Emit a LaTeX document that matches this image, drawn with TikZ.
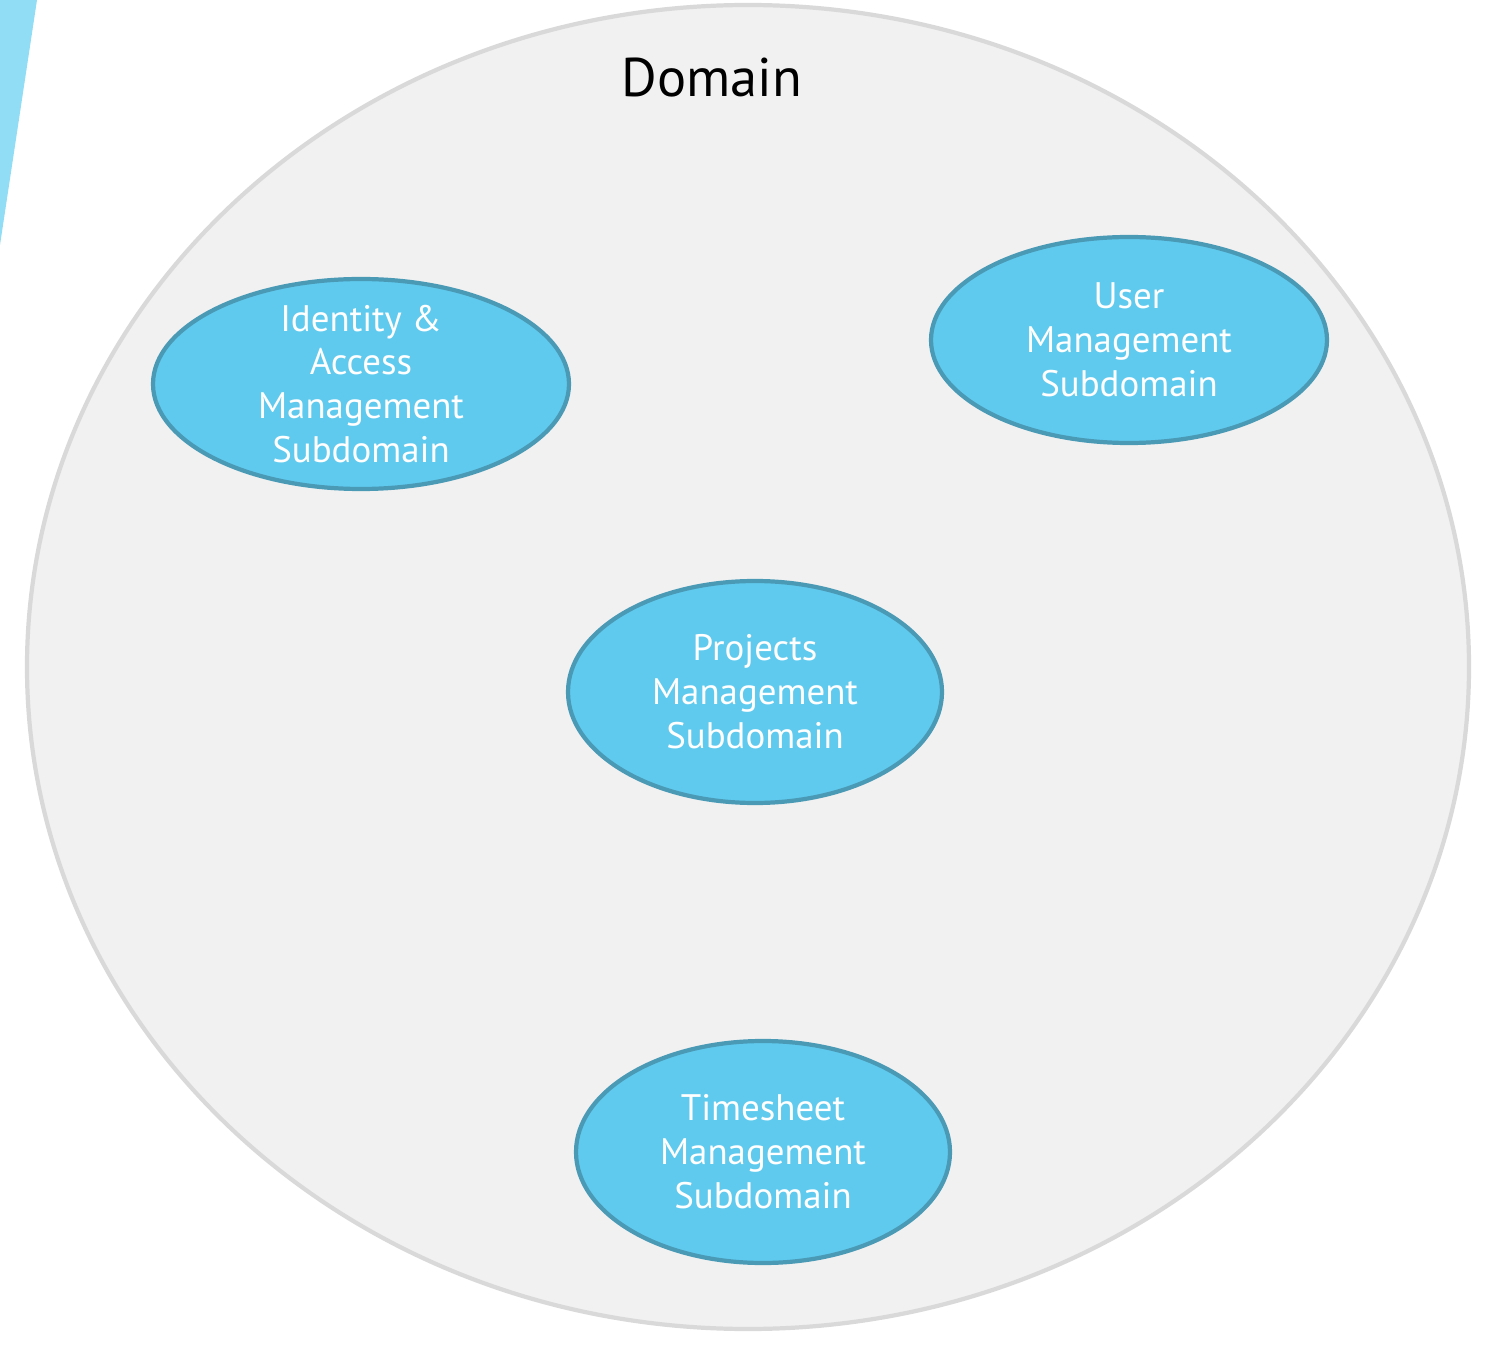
\documentclass[tikz,border=0pt]{standalone}
\usepackage{fontspec}
\setmainfont{PT Sans}
\usetikzlibrary{shapes.geometric}
\definecolor{subfill}{HTML}{5FCAEE}
\definecolor{subdraw}{HTML}{4A9AB6}
\definecolor{domfill}{HTML}{F1F1F1}
\definecolor{domdraw}{HTML}{D9D9D9}
\definecolor{edgeblue}{HTML}{91DDF5}
\tikzstyle{invis} = [draw=none]
\tikzstyle{sub} = [draw=subdraw, fill=subfill, ellipse, line width=2.4pt, text=white, align=center, font=\fontsize{21}{25}\selectfont, inner sep=0pt]

\begin{document}
\begin{tikzpicture}[x=0.02cm,y=-0.02cm]

    \useasboundingbox (0,0) rectangle (1501,1361);
    \fill[edgeblue] (0,0) -- (37,0) -- (0,245) -- cycle;

    \draw[domdraw, fill=domfill, line width=2.4pt] (748,667) ellipse [x radius=721, y radius=662];
    \node[invis] at (712,78) (dom) [] {\fontsize{31}{36}\selectfont Domain};

    %=====================

    \node[sub, inner ysep=-7pt, minimum width=416*0.02cm, minimum height=210*0.02cm] at (361,384) (iam) [] {Identity \&\\Access\\Management\\Subdomain};
    \node[sub, minimum width=396*0.02cm, minimum height=206*0.02cm] at (1129,340) (user) [] {User\\Management\\Subdomain};
    \node[sub, minimum width=374*0.02cm, minimum height=222*0.02cm] at (755,692) (proj) [] {Projects\\Management\\Subdomain};
    \node[sub, minimum width=374*0.02cm, minimum height=222*0.02cm] at (763,1152) (time) [] {Timesheet\\Management\\Subdomain};

\end{tikzpicture}
\end{document}
